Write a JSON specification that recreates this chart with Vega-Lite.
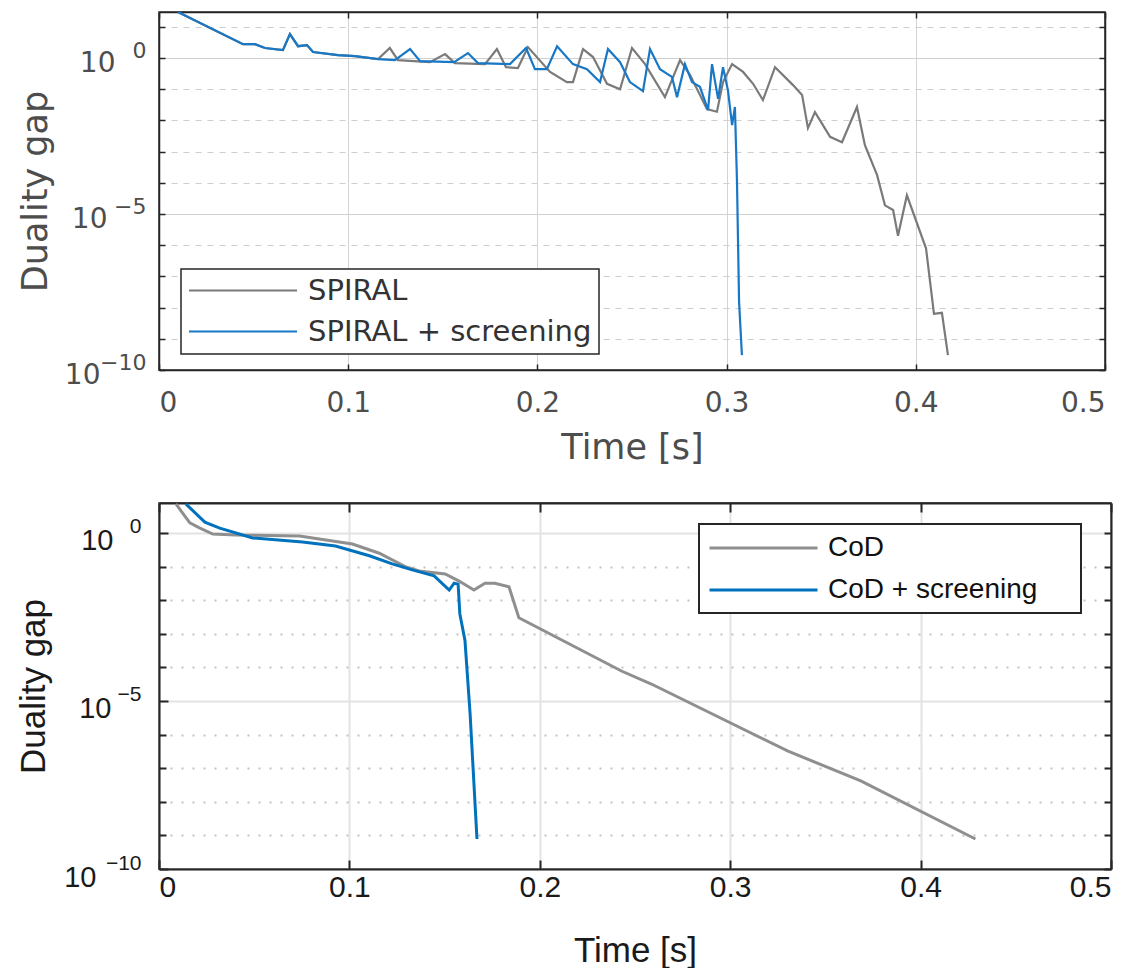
{
  "$schema": "https://vega.github.io/schema/vega-lite/v6.json",
  "background": "white",
  "padding": {"left": 15, "top": 10, "right": 20, "bottom": 0},
  "spacing": 35,
  "config": {
    "view": {"stroke": "#262626", "strokeWidth": 1.5},
    "axis": {"titleFontWeight": "normal"}
  },
  "datasets": {
    "spiral": [
      {"method": "SPIRAL", "t": 0.010, "gap": 30},
      {"method": "SPIRAL", "t": 0.0444, "gap": 2.8},
      {"method": "SPIRAL", "t": 0.0507, "gap": 2.8},
      {"method": "SPIRAL", "t": 0.056, "gap": 2.1},
      {"method": "SPIRAL", "t": 0.0655, "gap": 1.8},
      {"method": "SPIRAL", "t": 0.0692, "gap": 5.9},
      {"method": "SPIRAL", "t": 0.0735, "gap": 2.4},
      {"method": "SPIRAL", "t": 0.0782, "gap": 2.6},
      {"method": "SPIRAL", "t": 0.0814, "gap": 1.56},
      {"method": "SPIRAL", "t": 0.0946, "gap": 1.25},
      {"method": "SPIRAL", "t": 0.1036, "gap": 1.16},
      {"method": "SPIRAL", "t": 0.1158, "gap": 0.93},
      {"method": "SPIRAL", "t": 0.122, "gap": 2.1},
      {"method": "SPIRAL", "t": 0.1263, "gap": 0.86},
      {"method": "SPIRAL", "t": 0.1432, "gap": 0.74},
      {"method": "SPIRAL", "t": 0.1512, "gap": 1.34},
      {"method": "SPIRAL", "t": 0.1564, "gap": 0.69},
      {"method": "SPIRAL", "t": 0.1723, "gap": 0.64},
      {"method": "SPIRAL", "t": 0.1786, "gap": 1.94},
      {"method": "SPIRAL", "t": 0.1834, "gap": 0.51},
      {"method": "SPIRAL", "t": 0.1897, "gap": 0.48},
      {"method": "SPIRAL", "t": 0.195, "gap": 2.25},
      {"method": "SPIRAL", "t": 0.2067, "gap": 0.36},
      {"method": "SPIRAL", "t": 0.2156, "gap": 0.17},
      {"method": "SPIRAL", "t": 0.2188, "gap": 0.17},
      {"method": "SPIRAL", "t": 0.2241, "gap": 1.94},
      {"method": "SPIRAL", "t": 0.2294, "gap": 1.08},
      {"method": "SPIRAL", "t": 0.2368, "gap": 0.15},
      {"method": "SPIRAL", "t": 0.2437, "gap": 0.10},
      {"method": "SPIRAL", "t": 0.25, "gap": 2.1},
      {"method": "SPIRAL", "t": 0.2569, "gap": 0.64},
      {"method": "SPIRAL", "t": 0.2674, "gap": 0.056},
      {"method": "SPIRAL", "t": 0.2754, "gap": 0.86},
      {"method": "SPIRAL", "t": 0.2807, "gap": 0.285},
      {"method": "SPIRAL", "t": 0.2896, "gap": 0.023},
      {"method": "SPIRAL", "t": 0.2949, "gap": 0.019},
      {"method": "SPIRAL", "t": 0.2981, "gap": 0.17},
      {"method": "SPIRAL", "t": 0.3029, "gap": 0.64},
      {"method": "SPIRAL", "t": 0.3087, "gap": 0.36},
      {"method": "SPIRAL", "t": 0.314, "gap": 0.15},
      {"method": "SPIRAL", "t": 0.3192, "gap": 0.045},
      {"method": "SPIRAL", "t": 0.3256, "gap": 0.51},
      {"method": "SPIRAL", "t": 0.3351, "gap": 0.136},
      {"method": "SPIRAL", "t": 0.3399, "gap": 0.065},
      {"method": "SPIRAL", "t": 0.343, "gap": 0.0057},
      {"method": "SPIRAL", "t": 0.3467, "gap": 0.0186},
      {"method": "SPIRAL", "t": 0.3547, "gap": 0.0030},
      {"method": "SPIRAL", "t": 0.361, "gap": 0.0020},
      {"method": "SPIRAL", "t": 0.3689, "gap": 0.027},
      {"method": "SPIRAL", "t": 0.3731, "gap": 0.0016},
      {"method": "SPIRAL", "t": 0.3795, "gap": 0.00018},
      {"method": "SPIRAL", "t": 0.3837, "gap": 0.000019},
      {"method": "SPIRAL", "t": 0.388, "gap": 0.0000135},
      {"method": "SPIRAL", "t": 0.3906, "gap": 0.000002},
      {"method": "SPIRAL", "t": 0.3953, "gap": 0.00004},
      {"method": "SPIRAL", "t": 0.4054, "gap": 8e-7},
      {"method": "SPIRAL", "t": 0.4096, "gap": 6.3e-9},
      {"method": "SPIRAL", "t": 0.4138, "gap": 6.8e-9},
      {"method": "SPIRAL", "t": 0.417, "gap": 3e-10},
      {"method": "SPIRAL + screening", "t": 0.010, "gap": 30},
      {"method": "SPIRAL + screening", "t": 0.0444, "gap": 2.8},
      {"method": "SPIRAL + screening", "t": 0.0507, "gap": 2.8},
      {"method": "SPIRAL + screening", "t": 0.056, "gap": 2.1},
      {"method": "SPIRAL + screening", "t": 0.0655, "gap": 1.8},
      {"method": "SPIRAL + screening", "t": 0.0692, "gap": 5.9},
      {"method": "SPIRAL + screening", "t": 0.0735, "gap": 2.4},
      {"method": "SPIRAL + screening", "t": 0.0782, "gap": 2.6},
      {"method": "SPIRAL + screening", "t": 0.0814, "gap": 1.56},
      {"method": "SPIRAL + screening", "t": 0.0946, "gap": 1.25},
      {"method": "SPIRAL + screening", "t": 0.1036, "gap": 1.16},
      {"method": "SPIRAL + screening", "t": 0.1158, "gap": 0.93},
      {"method": "SPIRAL + screening", "t": 0.1247, "gap": 0.86},
      {"method": "SPIRAL + screening", "t": 0.1327, "gap": 1.94},
      {"method": "SPIRAL + screening", "t": 0.138, "gap": 0.8},
      {"method": "SPIRAL + screening", "t": 0.156, "gap": 0.74},
      {"method": "SPIRAL + screening", "t": 0.1633, "gap": 1.45},
      {"method": "SPIRAL + screening", "t": 0.1686, "gap": 0.69},
      {"method": "SPIRAL + screening", "t": 0.1855, "gap": 0.64},
      {"method": "SPIRAL + screening", "t": 0.194, "gap": 2.1},
      {"method": "SPIRAL + screening", "t": 0.1987, "gap": 0.44},
      {"method": "SPIRAL + screening", "t": 0.205, "gap": 0.44},
      {"method": "SPIRAL + screening", "t": 0.2104, "gap": 2.4},
      {"method": "SPIRAL + screening", "t": 0.2188, "gap": 0.64},
      {"method": "SPIRAL + screening", "t": 0.2262, "gap": 0.44},
      {"method": "SPIRAL + screening", "t": 0.2331, "gap": 0.17},
      {"method": "SPIRAL + screening", "t": 0.2373, "gap": 1.94},
      {"method": "SPIRAL + screening", "t": 0.2437, "gap": 0.74},
      {"method": "SPIRAL + screening", "t": 0.2489, "gap": 0.17},
      {"method": "SPIRAL + screening", "t": 0.2558, "gap": 0.087},
      {"method": "SPIRAL + screening", "t": 0.2595, "gap": 1.94},
      {"method": "SPIRAL + screening", "t": 0.2648, "gap": 0.44},
      {"method": "SPIRAL + screening", "t": 0.2711, "gap": 0.25},
      {"method": "SPIRAL + screening", "t": 0.2738, "gap": 0.056},
      {"method": "SPIRAL + screening", "t": 0.278, "gap": 0.64},
      {"method": "SPIRAL + screening", "t": 0.2817, "gap": 0.17},
      {"method": "SPIRAL + screening", "t": 0.2859, "gap": 0.12},
      {"method": "SPIRAL + screening", "t": 0.2902, "gap": 0.0215},
      {"method": "SPIRAL + screening", "t": 0.2923, "gap": 0.64},
      {"method": "SPIRAL + screening", "t": 0.2955, "gap": 0.049},
      {"method": "SPIRAL + screening", "t": 0.2981, "gap": 0.51},
      {"method": "SPIRAL + screening", "t": 0.3007, "gap": 0.094},
      {"method": "SPIRAL + screening", "t": 0.3029, "gap": 0.0071},
      {"method": "SPIRAL + screening", "t": 0.3044, "gap": 0.027},
      {"method": "SPIRAL + screening", "t": 0.3055, "gap": 0.000107},
      {"method": "SPIRAL + screening", "t": 0.306, "gap": 0.0000018},
      {"method": "SPIRAL + screening", "t": 0.3066, "gap": 1.5e-8},
      {"method": "SPIRAL + screening", "t": 0.3081, "gap": 3e-10}
    ],
    "cod": [
      {"method": "CoD", "t": 0.0089, "gap": 7.3},
      {"method": "CoD", "t": 0.0162, "gap": 2.0},
      {"method": "CoD", "t": 0.0215, "gap": 1.4},
      {"method": "CoD", "t": 0.0283, "gap": 0.93},
      {"method": "CoD", "t": 0.0403, "gap": 0.87},
      {"method": "CoD", "t": 0.0738, "gap": 0.81},
      {"method": "CoD", "t": 0.1016, "gap": 0.47},
      {"method": "CoD", "t": 0.1157, "gap": 0.25},
      {"method": "CoD", "t": 0.1293, "gap": 0.10},
      {"method": "CoD", "t": 0.1366, "gap": 0.074},
      {"method": "CoD", "t": 0.1503, "gap": 0.06},
      {"method": "CoD", "t": 0.1576, "gap": 0.037},
      {"method": "CoD", "t": 0.1654, "gap": 0.020},
      {"method": "CoD", "t": 0.1712, "gap": 0.032},
      {"method": "CoD", "t": 0.1764, "gap": 0.032},
      {"method": "CoD", "t": 0.1838, "gap": 0.025},
      {"method": "CoD", "t": 0.189, "gap": 0.003},
      {"method": "CoD", "t": 0.2429, "gap": 0.000078},
      {"method": "CoD", "t": 0.2586, "gap": 0.000032},
      {"method": "CoD", "t": 0.3304, "gap": 3.2e-7},
      {"method": "CoD", "t": 0.3686, "gap": 4.2e-8},
      {"method": "CoD", "t": 0.4288, "gap": 7.8e-10},
      {"method": "CoD + screening", "t": 0.0141, "gap": 7.3},
      {"method": "CoD + screening", "t": 0.0241, "gap": 2.1},
      {"method": "CoD + screening", "t": 0.0319, "gap": 1.4},
      {"method": "CoD + screening", "t": 0.0492, "gap": 0.71},
      {"method": "CoD + screening", "t": 0.0754, "gap": 0.54},
      {"method": "CoD + screening", "t": 0.0927, "gap": 0.41},
      {"method": "CoD + screening", "t": 0.1105, "gap": 0.21},
      {"method": "CoD + screening", "t": 0.1225, "gap": 0.12},
      {"method": "CoD + screening", "t": 0.133, "gap": 0.08},
      {"method": "CoD + screening", "t": 0.1445, "gap": 0.053},
      {"method": "CoD + screening", "t": 0.1524, "gap": 0.020},
      {"method": "CoD + screening", "t": 0.155, "gap": 0.032},
      {"method": "CoD + screening", "t": 0.1571, "gap": 0.030},
      {"method": "CoD + screening", "t": 0.158, "gap": 0.0039},
      {"method": "CoD + screening", "t": 0.1607, "gap": 0.00063},
      {"method": "CoD + screening", "t": 0.1634, "gap": 0.0000041},
      {"method": "CoD + screening", "t": 0.167, "gap": 7.8e-10}
    ]
  },
  "resolve": {
    "scale": {"x": "independent", "y": "independent", "color": "independent"},
    "legend": {"color": "independent"}
  },
  "vconcat": [
    {
      "width": 946,
      "height": 358,
      "data": {"name": "spiral"},
      "layer": [
        {
          "mark": {"type": "line", "opacity": 0},
          "encoding": {
            "x": {"field": "t", "type": "quantitative", "axis": null},
            "y": {"field": "gap", "type": "quantitative",
              "axis": {"orient": "left", "values": [10, 0.1, 0.01, 0.001, 0.0001, 1e-6, 1e-7, 1e-8, 1e-9],
                "labels": false, "domain": false, "title": null,
                "grid": true, "gridColor": "#cfcfcf", "gridWidth": 1, "gridDash": [6, 6],
                "tickColor": "#262626", "tickWidth": 1.5, "tickSize": -6}},
            "detail": {"field": "method"}
          }
        },
        {
          "mark": {"type": "line", "strokeWidth": 2.2, "clip": true},
          "encoding": {
            "x": {
              "field": "t", "type": "quantitative",
              "scale": {"domain": [0, 0.5], "nice": false, "zero": false},
              "axis": {
                "values": [0, 0.1, 0.2, 0.3, 0.4, 0.5], "format": "~g",
                "grid": true, "gridColor": "#d4d4d4", "gridWidth": 1,
                "domainColor": "#262626", "domainWidth": 1.5,
                "tickColor": "#262626", "tickWidth": 1.5, "tickSize": -6,
                "labelFont": "DejaVu Sans", "labelFontSize": 28, "labelColor": "#4d4d4d", "labelPadding": 25,
                "title": "Time [s]", "titleFont": "DejaVu Sans", "titleFontSize": 35, "titleColor": "#4d4d4d", "titlePadding": 13
              }
            },
            "y": {
              "field": "gap", "type": "quantitative",
              "scale": {"type": "log", "domain": [1e-10, 30], "nice": false},
              "axis": {
                "orient": "left",
                "values": [1, 1e-5, 1e-10],
                "labelExpr": "'10'",
                "labelPadding": {"condition": [{"test": "datum.value === 1", "value": 50}, {"test": "datum.value === 1e-5", "value": 58}], "value": 65},
                "labelOffset": 5,
                "grid": true, "gridColor": "#d0d0d0", "gridWidth": 1,
                "domainColor": "#262626", "domainWidth": 1.5,
                "tickColor": "#262626", "tickWidth": 1.5, "tickSize": -6,
                "labelFont": "DejaVu Sans", "labelFontSize": 28, "labelColor": "#4d4d4d",
                "title": "Duality gap", "titleFont": "DejaVu Sans", "titleFontSize": 35, "titleColor": "#4d4d4d", "titlePadding": 11
              }
            },
            "color": {
              "field": "method", "type": "nominal",
              "scale": {"domain": ["SPIRAL", "SPIRAL + screening"], "range": ["#7a7a7a", "#1878c6"]},
              "legend": {
                "orient": "none", "legendX": 22, "legendY": 257, "title": null,
                "symbolType": "M-1,0H7", "symbolSize": 729, "symbolStrokeWidth": 2,
                "labelFont": "DejaVu Sans", "labelFontSize": 29, "labelColor": "#333333", "labelLimit": 600,
                "labelOffset": 91, "rowPadding": 11, "padding": 7,
                "strokeColor": "#262626", "fillColor": "white",
                "encode": {"legend": {"update": {"strokeWidth": {"value": 1.5}}}}
              }
            }
          }
        },
        {
          "mark": {"type": "line", "opacity": 0},
          "encoding": {
            "x": {"field": "t", "type": "quantitative", "axis": null},
            "y": {"field": "gap", "type": "quantitative",
              "axis": {"orient": "left", "values": [1, 1e-5, 1e-10],
                "labelExpr": "datum.value === 1 ? '0' : datum.value === 1e-5 ? '−5' : '−10'",
                "ticks": false, "domain": false, "grid": false, "title": null,
                "labelPadding": 13, "labelOffset": -8,
                "labelFont": "DejaVu Sans", "labelFontSize": 22, "labelColor": "#4d4d4d"}},
            "detail": {"field": "method"}
          }
        },
        {
          "mark": {"type": "line", "opacity": 0},
          "encoding": {
            "x": {"field": "t", "type": "quantitative",
              "axis": {"orient": "top", "values": [0, 0.1, 0.2, 0.3, 0.4, 0.5], "labels": false, "grid": false, "title": null,
                "domainColor": "#262626", "domainWidth": 1.5, "tickColor": "#262626", "tickWidth": 1.5, "tickSize": -6}},
            "y": {"field": "gap", "type": "quantitative",
              "axis": {"orient": "right", "values": [10, 1, 0.1, 0.01, 0.001, 0.0001, 1e-5, 1e-6, 1e-7, 1e-8, 1e-9, 1e-10], "labels": false, "grid": false, "title": null,
                "domainColor": "#262626", "domainWidth": 1.5, "tickColor": "#262626", "tickWidth": 1.5, "tickSize": -6}},
            "detail": {"field": "method"}
          }
        }
      ],
      "resolve": {"axis": {"x": "independent", "y": "independent"}}
    },
    {
      "width": 952,
      "height": 366,
      "data": {"name": "cod"},
      "layer": [
        {
          "mark": {"type": "line", "opacity": 0},
          "encoding": {
            "x": {"field": "t", "type": "quantitative", "axis": null},
            "y": {"field": "gap", "type": "quantitative",
              "axis": {"orient": "left", "values": [0.1, 0.01, 0.001, 0.0001, 1e-6, 1e-7, 1e-8, 1e-9],
                "labels": false, "domain": false, "title": null,
                "grid": true, "gridColor": "#c4c4c4", "gridWidth": 2, "gridDash": [2, 9],
                "tickColor": "#262626", "tickWidth": 2, "tickSize": -7}},
            "detail": {"field": "method"}
          }
        },
        {
          "mark": {"type": "line", "strokeWidth": 3, "clip": true},
          "encoding": {
            "x": {
              "field": "t", "type": "quantitative",
              "scale": {"domain": [0, 0.5], "nice": false, "zero": false},
              "axis": {
                "values": [0, 0.1, 0.2, 0.3, 0.4, 0.5], "format": "~g",
                "grid": true, "gridColor": "#e3e3e3", "gridWidth": 2,
                "domainColor": "#262626", "domainWidth": 2,
                "tickColor": "#262626", "tickWidth": 2, "tickSize": -9,
                "labelFont": "Liberation Sans", "labelFontSize": 30, "labelColor": "#1a1a1a", "labelPadding": 12,
                "title": "Time [s]", "titleFont": "Liberation Sans", "titleFontSize": 35, "titleColor": "#1a1a1a", "titlePadding": 31
              }
            },
            "y": {
              "field": "gap", "type": "quantitative",
              "scale": {"type": "log", "domain": [1e-10, 7.8], "nice": false},
              "axis": {
                "orient": "left",
                "values": [1, 1e-5, 1e-10],
                "labelExpr": "'10'",
                "labelPadding": {"condition": [{"test": "datum.value === 1", "value": 55}, {"test": "datum.value === 1e-5", "value": 57}], "value": 72},
                "labelOffset": 8,
                "grid": true, "gridColor": "#e3e3e3", "gridWidth": 2,
                "domainColor": "#262626", "domainWidth": 2,
                "tickColor": "#262626", "tickWidth": 2, "tickSize": -9,
                "labelFont": "Liberation Sans", "labelFontSize": 29, "labelColor": "#1a1a1a",
                "title": "Duality gap", "titleFont": "Liberation Sans", "titleFontSize": 35, "titleColor": "#1a1a1a", "titlePadding": 12
              }
            },
            "color": {
              "field": "method", "type": "nominal",
              "scale": {"domain": ["CoD", "CoD + screening"], "range": ["#8f8f8f", "#0072BD"]},
              "legend": {
                "orient": "none", "legendX": 540, "legendY": 21,
                "title": "\u00a0", "titleOrient": "right", "titlePadding": 35, "titleFontSize": 10,
                "symbolType": "M-1,0H7", "symbolSize": 729, "symbolStrokeWidth": 3,
                "labelFont": "Liberation Sans", "labelFontSize": 28, "labelColor": "#111111", "labelLimit": 600,
                "labelOffset": 90, "rowPadding": 13, "padding": 9,
                "strokeColor": "#262626", "fillColor": "white",
                "encode": {"legend": {"update": {"strokeWidth": {"value": 2}}}}
              }
            }
          }
        },
        {
          "mark": {"type": "line", "opacity": 0},
          "encoding": {
            "x": {"field": "t", "type": "quantitative", "axis": null},
            "y": {"field": "gap", "type": "quantitative",
              "axis": {"orient": "left", "values": [1, 1e-5, 1e-10],
                "labelExpr": "datum.value === 1 ? '0' : datum.value === 1e-5 ? '−5' : '−10'",
                "ticks": false, "domain": false, "grid": false, "title": null,
                "labelPadding": 18, "labelOffset": -6,
                "labelFont": "Liberation Sans", "labelFontSize": 21, "labelColor": "#1a1a1a"}},
            "detail": {"field": "method"}
          }
        },
        {
          "mark": {"type": "line", "opacity": 0},
          "encoding": {
            "x": {"field": "t", "type": "quantitative",
              "axis": {"orient": "top", "values": [0, 0.1, 0.2, 0.3, 0.4, 0.5], "labels": false, "grid": false, "title": null,
                "domainColor": "#262626", "domainWidth": 2, "tickColor": "#262626", "tickWidth": 2, "tickSize": -9}},
            "y": {"field": "gap", "type": "quantitative",
              "axis": {"orient": "right", "values": [1, 0.1, 0.01, 0.001, 0.0001, 1e-5, 1e-6, 1e-7, 1e-8, 1e-9, 1e-10], "labels": false, "grid": false, "title": null,
                "domainColor": "#262626", "domainWidth": 2, "tickColor": "#262626", "tickWidth": 2, "tickSize": -7}},
            "detail": {"field": "method"}
          }
        }
      ],
      "resolve": {"axis": {"x": "independent", "y": "independent"}}
    }
  ]
}
